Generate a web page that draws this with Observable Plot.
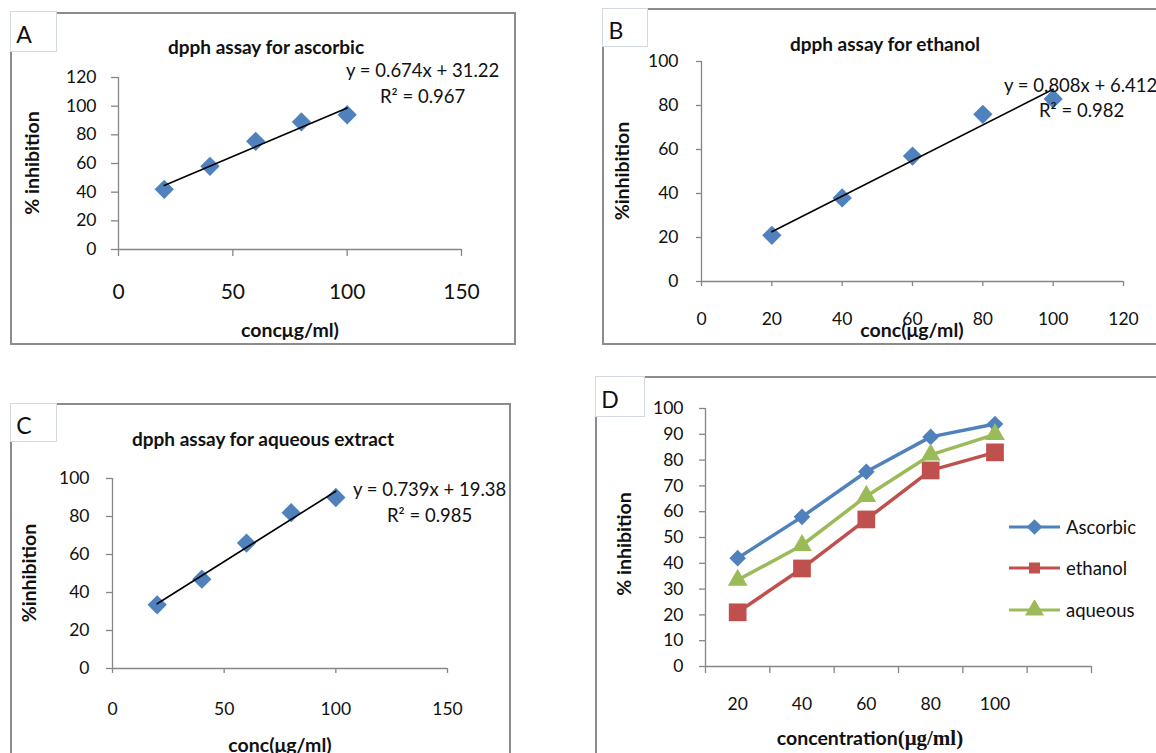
<!DOCTYPE html>
<html><head><meta charset="utf-8">
<script src="https://cdn.jsdelivr.net/npm/d3@7"></script>
<script src="https://cdn.jsdelivr.net/npm/@observablehq/plot@0.6"></script>
<style>
html,body{margin:0;padding:0;background:#fff;}
#page{position:relative;width:1156px;height:753px;overflow:hidden;font-family:Lato,"Open Sans",sans-serif;color:#111;}
.frame{position:absolute;border:2px solid #8c8c8c;box-sizing:border-box;}
.tag{position:absolute;background:#fff;border:1px solid #d3d9e3;box-sizing:border-box;}
.t{position:absolute;white-space:nowrap;line-height:1;}
.plot{position:absolute;}
</style></head><body><div id="page"></div>
<script>
// ---- data ----
const conc = [20, 40, 60, 80, 100];
const ascorbic = [42, 58, 75.5, 89, 94];
const ethanol = [21, 38, 57, 76, 83];
const aqueous = [33.5, 47, 66, 82, 90];
const seriesNames = ["Ascorbic", "ethanol", "aqueous"];
const ticksA_x = [0, 50, 100, 150], ticksA_y = [0, 20, 40, 60, 80, 100, 120];
const ticksB_x = [0, 20, 40, 60, 80, 100, 120], ticksB_y = [0, 20, 40, 60, 80, 100];
const ticksC_x = [0, 50, 100, 150], ticksC_y = [0, 20, 40, 60, 80, 100];
const ticksD_bounds = [10, 30, 50, 70, 90, 110, 130], ticksD_y = [0,10,20,30,40,50,60,70,80,90,100];
const eqA = ["y = 0.674x + 31.22", "R² = 0.967"];
const eqB = ["y = 0.808x + 6.412", "R² = 0.982"];
const eqC = ["y = 0.739x + 19.38", "R² = 0.985"];

const blue = "#4F81BD", red = "#C0504D", green = "#9BBB59";
const axisColor = "#868686", ink = "#111";
const page = document.getElementById("page");

function el(cls, css, html) {
  const d = document.createElement("div");
  d.className = cls; Object.assign(d.style, css);
  if (html != null) d.innerHTML = html;
  page.appendChild(d); return d;
}
function txt(str, x, y, {size = 16, bold = false, anchor = "c", rotate = false, family} = {}) {
  const css = {left: x + "px", top: y + "px", fontSize: size + "px", fontWeight: bold ? "700" : "400"};
  if (family) css.fontFamily = family;
  let tr = anchor === "c" ? "translate(-50%,-50%)" : "translate(0,-50%)";
  if (rotate) tr += " rotate(-90deg)";
  css.transform = tr;
  return el("t", css, str);
}
function place(svg, left, top) {
  svg.classList.add("plot");
  svg.style.left = left + "px"; svg.style.top = top + "px";
  page.appendChild(svg);
}
const style = {fontFamily: "Lato, sans-serif", background: "transparent", overflow: "visible", color: ink};
const rows = vals => conc.map((c, i) => ({c, v: vals[i]}));

// frames
el("frame", {left: "10px", top: "12px", width: "506px", height: "333px"});
el("frame", {left: "602px", top: "8px", width: "560px", height: "337px"});
el("frame", {left: "10px", top: "403px", width: "501px", height: "360px"});
el("frame", {left: "595px", top: "376px", width: "570px", height: "390px"});

function scatterPanel({data, left, top, width, height, mL, mR, mT, mB, xDom, yDom, xt, yt, xSize, ySize, xPad, yPad, xFont, yFont}) {
  const svg = Plot.plot({
    width, height, marginLeft: mL, marginRight: mR, marginTop: mT, marginBottom: mB,
    x: {domain: xDom}, y: {domain: yDom}, style,
    marks: [
      Plot.ruleY([0], {stroke: axisColor, strokeWidth: 1.3}),
      Plot.ruleX([0], {stroke: axisColor, strokeWidth: 1.3}),
      Plot.axisX(xt, {tickSize: xSize, tickPadding: xPad, fontSize: xFont, stroke: axisColor, strokeWidth: 1.3, fill: ink, label: null}),
      Plot.axisY(yt, {tickSize: ySize, tickPadding: yPad, fontSize: yFont, stroke: axisColor, strokeWidth: 1.3, fill: ink, label: null}),
      Plot.dot(data, {x: "c", y: "v", symbol: d3.symbolDiamond2, r: 8.7, fill: blue}),
      Plot.linearRegressionY(data, {x: "c", y: "v", ci: 0, stroke: "#000", strokeWidth: 1.6})
    ]
  });
  place(svg, left, top);
}

// Panel A
scatterPanel({data: rows(ascorbic), left: 0, top: 0, width: 530, height: 360, mL: 118, mR: 69, mT: 77, mB: 111,
  xDom: [0, 150], yDom: [0, 120], xt: ticksA_x, yt: ticksA_y, xSize: 7, ySize: 7, xPad: 28, yPad: 15, xFont: 21, yFont: 17.5});
// Panel B
scatterPanel({data: rows(ethanol), left: 590, top: 0, width: 566, height: 360, mL: 111, mR: 33, mT: 61, mB: 79,
  xDom: [0, 120], yDom: [0, 100], xt: ticksB_x, yt: ticksB_y, xSize: 5, ySize: 5, xPad: 26, yPad: 18, xFont: 17.5, yFont: 17.5});
// Panel C
scatterPanel({data: rows(aqueous), left: 0, top: 390, width: 530, height: 363, mL: 112, mR: 83, mT: 88, mB: 85,
  xDom: [0, 150], yDom: [0, 100], xt: ticksC_x, yt: ticksC_y, xSize: 5, ySize: 6, xPad: 29, yPad: 17, xFont: 17.5, yFont: 17.5});

// Panel D
const seriesD = [
  {name: seriesNames[0], vals: ascorbic, color: blue, sym: d3.symbolDiamond2, r: 7.5},
  {name: seriesNames[1], vals: ethanol, color: red, sym: d3.symbolSquare, r: 10},
  {name: seriesNames[2], vals: aqueous, color: green, sym: d3.symbolTriangle, r: 7.3}
];
const marksD = [
  Plot.ruleY([0], {stroke: axisColor, strokeWidth: 1.3}),
  Plot.ruleX([10], {stroke: axisColor, strokeWidth: 1.3}),
  Plot.axisX(ticksD_bounds, {tickSize: 7, tickFormat: () => "", stroke: axisColor, strokeWidth: 1.3, label: null}),
  Plot.axisX(conc, {tickSize: 0, tickPadding: 31, fontSize: 17.5, fill: ink, label: null}),
  Plot.axisY(ticksD_y, {tickSize: 6, tickPadding: 16, fontSize: 17.5, stroke: axisColor, strokeWidth: 1.3, fill: ink, label: null})
];
for (const s of seriesD) {
  const d = rows(s.vals);
  marksD.push(Plot.line(d, {x: "c", y: "v", stroke: s.color, strokeWidth: 3.5, strokeLinejoin: "round"}));
  marksD.push(Plot.dot(d, {x: "c", y: "v", symbol: s.sym, r: s.r, fill: s.color}));
}
place(Plot.plot({
  width: 566, height: 383, marginLeft: 115, marginRight: 65, marginTop: 38, marginBottom: 87,
  x: {domain: [10, 130]}, y: {domain: [0, 100]}, style, marks: marksD
}), 590, 370);

// Legend D
const legY = [527, 568, 610];
seriesD.forEach((s, i) => {
  const size = 11 * 11 * (s.sym === d3.symbolSquare ? 1 : 1.3);
  const p = d3.symbol(s.sym, size)();
  el("t", {left: "1009px", top: (legY[i] - 10) + "px"},
    `<svg width="52" height="20"><line x1="0" x2="51" y1="10" y2="10" stroke="${s.color}" stroke-width="3"/><path transform="translate(25.5,10)" d="${p}" fill="${s.color}"/></svg>`);
  txt(s.name, 1066, legY[i], {size: 18.5, anchor: "l"});
});

// tags
const tags = [["A", 10, 11, 47, 41, 24, 34], ["B", 602, 8, 46, 39, 616, 30], ["C", 10, 403, 47, 39, 24, 425], ["D", 595, 376, 50, 41, 610, 399]];
for (const [L, x, y, w, h, cx, cy] of tags) {
  el("tag", {left: x + "px", top: y + "px", width: w + "px", height: h + "px"});
  txt(L, cx, cy, {size: 23});
}

// titles & labels
txt("dpph assay for ascorbic", 266, 46, {bold: true, size: 19});
txt("dpph assay for ethanol", 885, 43, {bold: true, size: 19});
txt("dpph assay for aqueous extract", 263, 438, {bold: true, size: 19});
txt(eqA[0], 346, 70, {anchor: "l", size: 18.5}); txt(eqA[1], 380, 96, {anchor: "l", size: 18.5});
txt(eqB[0], 1004, 85, {anchor: "l", size: 18.5}); txt(eqB[1], 1039, 110, {anchor: "l", size: 18.5});
txt(eqC[0], 353, 489, {anchor: "l", size: 18.5}); txt(eqC[1], 387, 515, {anchor: "l", size: 18.5});
txt("concμg/ml)", 290, 330, {bold: true, size: 19.5});
txt("conc(μg/ml)", 912, 330, {bold: true, size: 19.5});
txt("conc(μg/ml)", 280, 745, {bold: true, size: 19.5});
txt('concentration<span style="font-family:\'Liberation Serif\',serif;font-size:21px">(μg/ml)</span>', 870, 738, {bold: true, size: 19.5});
txt("% inhibition", 32, 163, {bold: true, rotate: true, size: 19.5});
txt("%inhibition", 622, 171, {bold: true, rotate: true, size: 19.5});
txt("%inhibition", 29, 573, {bold: true, rotate: true, size: 19.5});
txt("% inhibition", 624, 544, {bold: true, rotate: true, size: 19.5});
</script></body></html>
